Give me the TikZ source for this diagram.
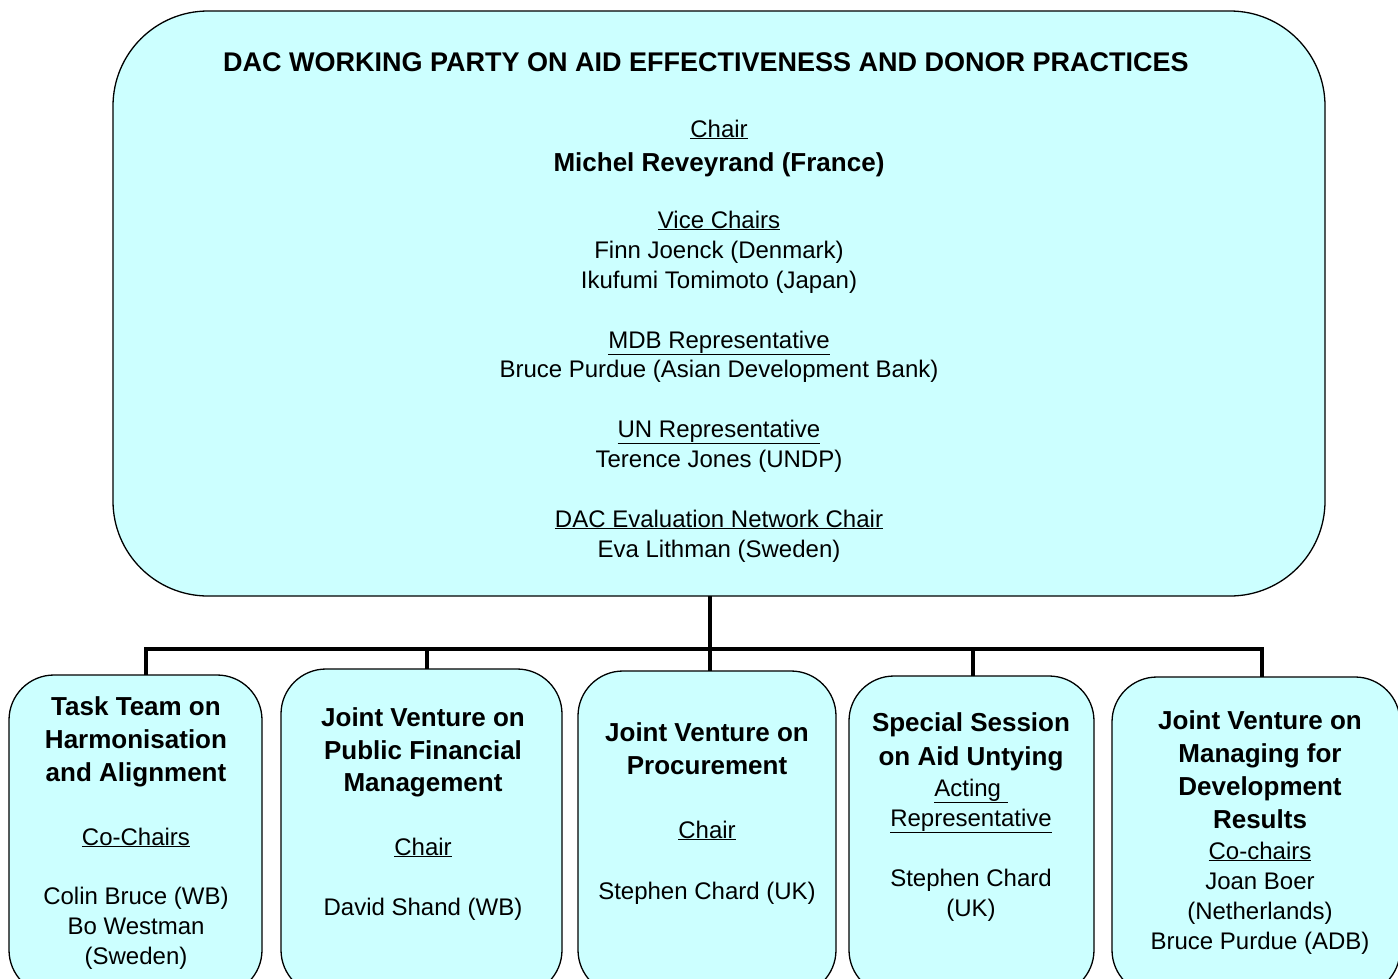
\documentclass[tikz,border=0pt]{standalone}
\usepackage{fontspec}
\setmainfont{Liberation Sans}
\definecolor{boxcyan}{HTML}{CCFFFF}

\begin{document}
\begin{tikzpicture}[x=1pt,y=-1pt,
    box/.style={draw=black,line width=1.3pt,fill=boxcyan,rounded corners=45pt,
      anchor=north west,inner sep=0pt,outer sep=0pt},
    link/.style={draw=black,line width=4.5pt,line join=miter},
    tx/.style={anchor=base,inner sep=0pt,font=\fontsize{24}{30}\selectfont},
    hd/.style={anchor=base,inner sep=0pt,font=\fontsize{26}{33}\selectfont\bfseries}]
  \useasboundingbox (0,0) rectangle (1398,978);
  \fill[white] (0,0) rectangle (1398,978);

  \node[box,rounded corners=95pt,minimum width=1212pt,minimum height=585pt] (main) at (113,11) {};
  \node[box,minimum width=253pt,minimum height=320pt] (b1) at (9,675) {};
  \node[box,minimum width=281pt,minimum height=326pt] (b2) at (281,669) {};
  \node[box,minimum width=258pt,minimum height=324pt] (b3) at (578,671) {};
  \node[box,minimum width=245pt,minimum height=319pt] (b4) at (849,676) {};
  \node[box,minimum width=288pt,minimum height=318pt] (b5) at (1112,677) {};

  % connectors
  \coordinate (d1) at (146,649);
  \coordinate (d2) at (427,649);
  \coordinate (d3) at (710,649);
  \coordinate (d4) at (973,649);
  \coordinate (d5) at (1262,649);
  \draw[link] (d1 |- b1.north) -- (d1) -- (d5) -- (d5 |- b5.north);
  \draw[link] (d3 |- main.south) -- (d3 |- b3.north);
  \draw[link] (d2) -- (d2 |- b2.north);
  \draw[link] (d4) -- (d4 |- b4.north);

  % main box
  \node[hd,font=\fontsize{27}{33}\selectfont\bfseries] (title) at (706,71)
    {DAC WORKING PARTY ON AID EFFECTIVENESS AND DONOR PRACTICES};
  \node[hd] (chairname) at (719,171) {Michel Reveyrand (France)};
  \foreach \y/\t [count=\i] in {137/{\underline{Chair}},228/{\underline{Vice Chairs}},
      258/{Finn Joenck (Denmark)},288/{Ikufumi Tomimoto (Japan)},
      348/{\underline{MDB Representative}},377/{Bruce Purdue (Asian Development Bank)},
      437/{\underline{UN Representative}},467/{Terence Jones (UNDP)},
      527/{\underline{DAC Evaluation Network Chair}},557/{Eva Lithman (Sweden)}}
    \node[tx] (m\i) at (719,\y) {\t};

  % box 1
  \foreach \y/\t [count=\i] in {715/{Task Team on},748/{Harmonisation},781/{and Alignment}}
    \node[hd] (b1h\i) at (136,\y) {\t};
  \foreach \y/\t [count=\i] in {845/{\underline{Co-Chairs}},904/{Colin Bruce (WB)},
      934/{Bo Westman},964/{(Sweden)}}
    \node[tx] (b1t\i) at (136,\y) {\t};

  % box 2
  \foreach \y/\t [count=\i] in {726/{Joint Venture on},759/{Public Financial},791/{Management}}
    \node[hd] (b2h\i) at (423,\y) {\t};
  \foreach \y/\t [count=\i] in {855/{\underline{Chair}},915/{David Shand (WB)}}
    \node[tx] (b2t\i) at (423,\y) {\t};

  % box 3
  \foreach \y/\t [count=\i] in {741/{Joint Venture on},774/{Procurement}}
    \node[hd] (b3h\i) at (707,\y) {\t};
  \foreach \y/\t [count=\i] in {838/{\underline{Chair}},899/{Stephen Chard (UK)}}
    \node[tx] (b3t\i) at (707,\y) {\t};

  % box 4
  \foreach \y/\t [count=\i] in {731/{Special Session},765/{on Aid Untying}}
    \node[hd] (b4h\i) at (971,\y) {\t};
  \foreach \y/\t [count=\i] in {796/{\underline{Acting\ }},826/{\underline{Representative}},
      886/{Stephen Chard},916/{(UK)}}
    \node[tx] (b4t\i) at (971,\y) {\t};

  % box 5
  \foreach \y/\t [count=\i] in {729/{Joint Venture on},762/{Managing for},
      795/{Development},828/{Results}}
    \node[hd] (b5h\i) at (1260,\y) {\t};
  \foreach \y/\t [count=\i] in {859/{\underline{Co-chairs}},889/{Joan Boer},
      919/{(Netherlands)},949/{Bruce Purdue (ADB)}}
    \node[tx] (b5t\i) at (1260,\y) {\t};
\end{tikzpicture}
\end{document}
